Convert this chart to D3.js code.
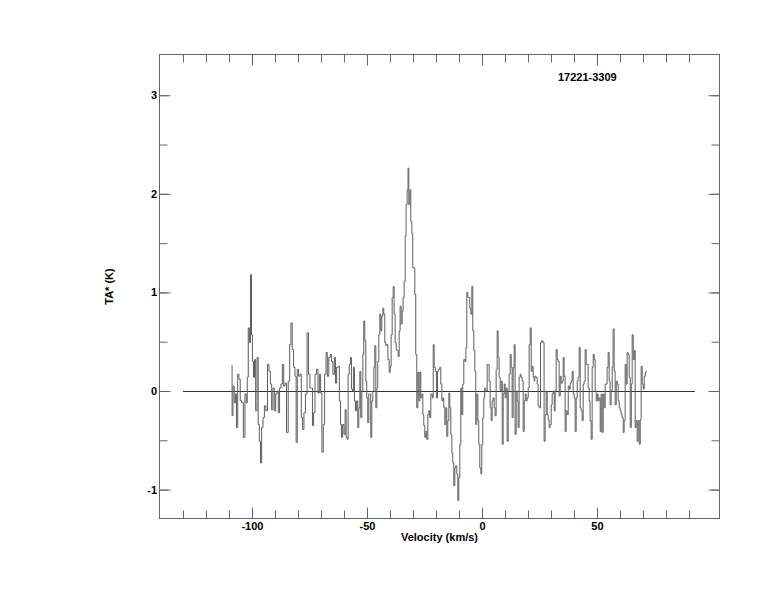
<!DOCTYPE html>
<html>
<head>
<meta charset="utf-8">
<script src="https://cdn.jsdelivr.net/npm/d3@7"></script>
<style>
  html, body { margin: 0; padding: 0; background: #fff; }
  svg text { font-family: "Liberation Sans", Arial, Helvetica, sans-serif; font-weight: bold; font-size: 11px; fill: #000; }
</style>
</head>
<body>
<svg id="chart" width="774" height="612"></svg>
<script>
// ---- data ----
const title = "17221-3309";
const xLabel = "Velocity (km/s)";
const yLabel = "TA* (K)";
const xMajorTicks = [-100, -50, 0, 50];
const xMinorTicks = [-130,-120,-110,-100,-90,-80,-70,-60,-50,-40,-30,-20,-10,0,10,20,30,40,50,60,70,80,90];
const yMajorTicks = [-1, 0, 1, 2, 3];
const yMinorTicks = [-1, -0.5, 0, 0.5, 1, 1.5, 2, 2.5, 3];
const baselineRange = [-130, 92.5];

const velocity = [
-108.8,-108.5,-108.0,-107.4,-107.0,-106.5,-105.9,-105.4,-104.8,-104.2,
-103.3,-102.8,-102.2,-101.9,-101.3,-100.9,-100.4,-100.0,-99.6,-99.1,
-98.7,-98.1,-97.5,-97.1,-96.5,-96.1,-95.5,-94.9,-94.3,-93.6,
-92.9,-92.3,-91.7,-91.2,-90.6,-90.0,-89.4,-88.8,-88.3,-87.7,
-87.1,-86.5,-85.9,-85.4,-84.6,-83.9,-83.3,-82.8,-82.2,-81.6,
-81.0,-80.6,-80.0,-79.4,-78.8,-78.3,-77.7,-77.1,-76.4,-75.7,
-75.1,-74.5,-73.9,-73.5,-72.9,-72.3,-71.6,-71.0,-70.4,-69.9,
-69.3,-68.7,-68.1,-67.5,-67.0,-66.2,-65.7,-65.1,-64.5,
-63.9,-63.5,-62.9,-62.3,-61.7,-61.3,-60.9,-60.3,-59.7,-59.3,
-58.8,-58.4,-58.0,-57.4,-57.0,-56.5,-56.1,-55.7,-55.2,-54.8,
-54.2,-53.8,-53.3,-52.9,-52.5,-52.0,-51.6,-51.2,-50.7,-50.3,
-49.9,-49.4,-49.0,-48.6,-48.1,-47.7,-47.2,-46.8,-46.4,-45.9,
-45.5,-45.1,-44.6,-44.2,-43.8,-43.3,-42.9,-42.5,-42.0,-41.6,
-41.2,-40.6,-40.1,-39.7,-39.3,-38.8,-38.4,-38.0,-37.5,-37.1,
-36.7,-36.2,-35.8,-35.4,-34.9,-34.5,-34.1,-33.6,-33.2,-32.8,
-32.3,-32.0,-31.6,-31.2,-30.7,-30.3,-29.9,-29.4,-29.0,-28.6,
-28.1,-27.7,-27.2,-26.8,-26.4,-25.9,-25.5,-25.1,-24.6,-24.2,
-23.8,-23.3,-22.9,
-22.6,-21.9,-21.4,-21.0,-20.6,-20.0,-19.6,-19.1,-18.6,-18.1,
-17.7,-17.2,-16.8,-16.4,-15.9,-15.5,-15.1,-14.6,-14.2,-13.8,
-13.3,-12.9,-12.5,-12.0,-11.6,-11.2,-10.7,-10.3,-9.9,-9.4,
-9.0,-8.6,-8.1,-7.7,-7.2,-6.8,-6.4,-5.9,-5.5,-5.1,
-4.6,-4.2,-3.8,-3.3,-2.9,-2.5,-2.0,-1.6,-1.2,-0.7,
-0.3,0.1,0.6,1.0,1.4,2.0,2.5,2.9,3.3,3.8,
4.2,4.6,5.1,5.5,5.9,6.4,6.8,7.2,7.7,8.1,
8.6,9.0,9.4,9.9,10.3,10.7,11.2,11.6,12.0,12.5,
12.9,13.3,13.8,14.2,14.6,15.1,15.5,15.9,16.4,16.8,
17.2,17.7,18.1,18.6,19.0,19.4,19.9,20.3,20.7,21.2,
21.6,22.0,22.5,22.9,
23.0,23.8,24.2,24.6,25.2,25.7,26.2,26.8,27.2,27.7,
28.1,28.6,29.0,29.4,29.9,30.3,30.7,31.2,31.6,32.0,
32.5,32.9,33.3,33.8,34.2,34.6,35.1,35.5,35.9,36.4,
36.8,37.3,37.7,38.1,38.6,39.0,39.4,39.9,40.3,40.7,
41.2,41.6,42.0,42.5,42.9,43.3,43.8,44.2,44.6,45.1,
45.5,45.9,46.4,46.8,47.2,47.7,48.1,48.6,49.0,49.4,
49.9,50.3,50.7,51.2,51.6,52.0,52.5,52.9,53.3,53.8,
54.2,54.6,55.1,55.5,55.9,56.4,56.8,57.2,57.7,58.1,
58.6,59.0,59.4,59.9,60.3,60.7,61.2,61.6,62.0,62.5,
62.9,63.3,63.8,64.2,64.7,65.1,65.5,66.0,66.4,66.8,
67.2,67.7,68.1,68.6,69.0,69.4,69.9,70.3,70.8,71.2,
71.6
];

const ta = [
0.26,-0.25,0.05,-0.12,-0.03,-0.37,0.17,0.12,-0.10,-0.12,
-0.47,-0.03,-0.12,0.14,0.64,0.49,1.18,0.57,0.30,0.14,
0.32,-0.20,0.34,-0.34,-0.51,-0.73,-0.37,-0.27,-0.15,-0.20,
0.27,0.20,0.07,-0.19,0.03,-0.20,-0.03,0.0,-0.22,0.03,
0.07,0.27,0.05,0.08,-0.42,0.10,0.47,0.69,0.42,0.24,
0.15,-0.52,0.22,0.15,0.17,-0.27,-0.39,-0.22,-0.03,0.59,
0.17,0.03,0.03,-0.35,-0.22,0.17,0.22,-0.02,0.17,-0.02,
-0.62,-0.34,0.17,0.39,0.15,0.34,0.37,0.30,0.17,
0.34,0.08,0.24,0.25,-0.10,-0.34,-0.47,-0.34,-0.44,-0.19,
-0.47,-0.49,0.17,0.27,0.34,0.02,0.0,0.24,-0.10,-0.20,
-0.10,-0.37,-0.17,0.20,-0.27,0.0,0.37,0.71,0.51,0.10,
-0.07,-0.32,-0.03,-0.03,-0.47,-0.10,0.0,0.24,0.46,-0.17,
0.03,0.30,0.57,0.78,0.61,0.76,0.84,0.78,0.49,0.46,
0.47,0.32,0.19,0.25,0.57,0.95,1.06,0.78,0.49,0.42,
0.41,0.35,0.61,0.86,0.68,0.81,0.95,1.11,1.57,1.89,
2.04,2.26,1.89,2.04,1.72,1.60,1.25,1.25,0.98,0.37,
-0.17,0.19,-0.10,0.19,-0.07,-0.03,-0.24,-0.35,-0.47,-0.41,
-0.49,-0.24,-0.20,
-0.27,-0.03,-0.07,0.47,0.24,0.20,-0.07,0.20,0.22,0.24,
0.07,-0.10,-0.07,-0.17,-0.34,-0.17,-0.46,-0.30,-0.02,-0.17,
-0.44,-0.63,-0.73,-0.96,-0.78,-0.76,-0.84,-1.11,-0.88,-0.54,
0.03,-0.24,0.07,0.32,0.30,0.44,1.00,0.95,0.95,0.84,
0.78,1.06,0.61,0.41,0.20,-0.34,-0.03,-0.30,-0.54,-0.78,
-0.84,-0.54,-0.27,-0.07,0.03,0.0,0.27,0.27,0.10,-0.17,
-0.30,-0.10,-0.07,-0.17,-0.25,0.22,0.61,0.34,0.14,0.0,
0.10,-0.54,-0.03,0.07,-0.07,0.03,-0.51,0.0,0.17,0.37,
0.24,-0.27,0.24,0.47,-0.44,0.0,-0.10,-0.37,0.14,0.17,
0.14,0.10,-0.41,-0.10,-0.03,-0.10,-0.07,0.03,0.47,0.64,
0.20,0.25,0.14,0.10,
0.15,0.14,0.07,-0.15,-0.17,0.49,0.51,0.49,-0.51,-0.24,
0.0,-0.24,-0.29,-0.37,-0.34,-0.14,-0.03,0.0,-0.20,0.0,
0.42,0.32,0.30,-0.05,0.15,0.08,0.10,0.34,0.15,-0.41,
-0.20,-0.24,0.05,0.02,0.08,0.10,0.20,-0.03,-0.07,-0.41,
-0.07,0.10,0.14,0.44,-0.17,-0.20,-0.30,0.07,0.10,0.42,
0.27,0.27,0.03,-0.10,-0.30,-0.49,0.24,0.37,0.32,0.0,
-0.10,-0.03,-0.10,-0.07,-0.41,-0.03,-0.42,-0.03,-0.17,0.07,
0.07,0.24,0.39,0.10,-0.14,0.0,0.24,0.63,0.20,-0.14,
0.10,0.07,-0.10,-0.17,-0.20,-0.24,-0.27,-0.42,-0.30,0.27,
0.07,0.39,0.37,0.14,-0.37,0.07,0.57,0.32,0.41,-0.37,
-0.30,-0.51,-0.30,-0.54,-0.29,0.25,0.07,0.02,0.15,0.19,
0.20
];

// ---- layout ----
const W = 774, H = 612;
const plot = { left: 159.5, right: 719.5, top: 54.5, bottom: 518.5 };
const frameColor = "#666666";
const lineColor = "#5e5e5e";

const x = d3.scaleLinear().domain([-140.2, 103.26]).range([plot.left, plot.right]);
const y = d3.scaleLinear().domain([-1.293, 3.413]).range([plot.bottom, plot.top]);

const svg = d3.select("#chart");

const data = velocity.map((v, i) => ({ v: v, t: ta[i] }));

// baseline (zero line)
svg.append("line")
  .attr("x1", x(baselineRange[0])).attr("x2", x(baselineRange[1]))
  .attr("y1", Math.round(y(0)) + 0.5).attr("y2", Math.round(y(0)) + 0.5)
  .attr("stroke", "#333").attr("stroke-width", 1);

// spectrum as histogram steps
const line = d3.line()
  .x(d => x(d.v))
  .y(d => y(d.t))
  .curve(d3.curveStep);

svg.append("path")
  .datum(data)
  .attr("fill", "none")
  .attr("stroke", lineColor)
  .attr("stroke-width", 1)
  .attr("d", line);

// axes helper
function styleAxis(g) {
  g.select(".domain").remove();
  g.selectAll(".tick line").attr("stroke", frameColor).attr("stroke-width", 1);
  g.selectAll(".tick text").attr("font-family", null).attr("font-size", null);
}

const majorLen = 11, minorLen = 8;

// bottom
svg.append("g").attr("transform", `translate(0,${plot.bottom})`)
  .call(d3.axisBottom(x).tickValues(xMinorTicks).tickSize(-minorLen).tickFormat(""))
  .call(styleAxis);
svg.append("g").attr("transform", `translate(0,${plot.bottom})`)
  .call(d3.axisBottom(x).tickValues(xMajorTicks).tickSize(-majorLen).tickPadding(3.5)
        .tickFormat(d => String(d)))
  .call(styleAxis);
// top
svg.append("g").attr("transform", `translate(0,${plot.top})`)
  .call(d3.axisTop(x).tickValues(xMinorTicks).tickSize(-minorLen).tickFormat(""))
  .call(styleAxis);
svg.append("g").attr("transform", `translate(0,${plot.top})`)
  .call(d3.axisTop(x).tickValues(xMajorTicks).tickSize(-majorLen).tickFormat(""))
  .call(styleAxis);
// left
svg.append("g").attr("transform", `translate(${plot.left},0)`)
  .call(d3.axisLeft(y).tickValues(yMinorTicks).tickSize(-minorLen).tickFormat(""))
  .call(styleAxis);
svg.append("g").attr("transform", `translate(${plot.left},0)`)
  .call(d3.axisLeft(y).tickValues(yMajorTicks).tickSize(-majorLen).tickPadding(2.5)
        .tickFormat(d => String(d)))
  .call(styleAxis);
// right
svg.append("g").attr("transform", `translate(${plot.right},0)`)
  .call(d3.axisRight(y).tickValues(yMinorTicks).tickSize(-minorLen).tickFormat(""))
  .call(styleAxis);
svg.append("g").attr("transform", `translate(${plot.right},0)`)
  .call(d3.axisRight(y).tickValues(yMajorTicks).tickSize(-majorLen).tickFormat(""))
  .call(styleAxis);

// frame
svg.append("rect")
  .attr("x", plot.left).attr("y", plot.top)
  .attr("width", plot.right - plot.left).attr("height", plot.bottom - plot.top)
  .attr("fill", "none").attr("stroke", frameColor).attr("stroke-width", 1);

// labels
svg.append("text")
  .attr("x", (plot.left + plot.right) / 2).attr("y", 541)
  .attr("text-anchor", "middle")
  .text(xLabel);

svg.append("text")
  .attr("transform", `translate(113,${(plot.top + plot.bottom) / 2}) rotate(-90)`)
  .attr("text-anchor", "middle")
  .text(yLabel);

svg.append("text")
  .attr("x", 558).attr("y", 81)
  .text(title);
</script>
</body>
</html>
